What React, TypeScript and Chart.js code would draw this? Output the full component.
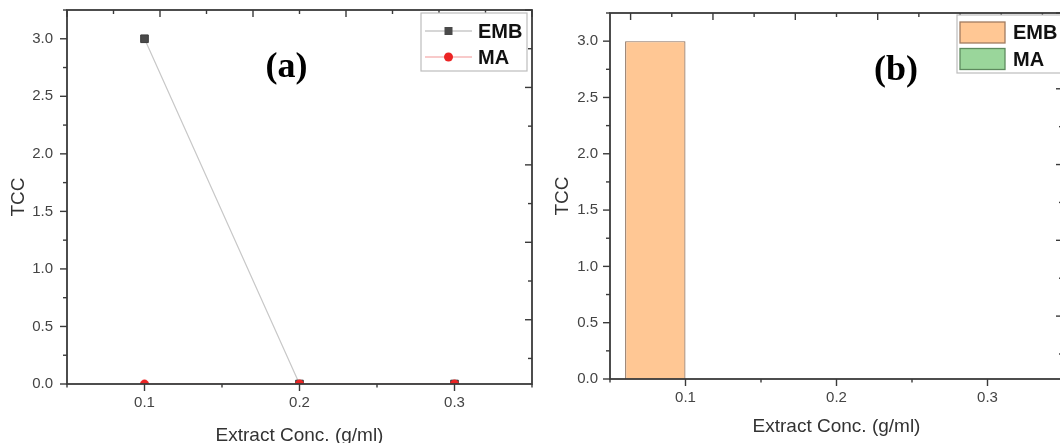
import React, { useEffect, useRef } from 'react';
import { Chart, registerables } from 'chart.js';

Chart.register(...registerables);

// ---------------- data ----------------
const concentrations = [0.1, 0.2, 0.3];
const embTCC = [3.0, 0.0, 0.0];
const maTCC = [0.0, 0.0, 0.0];
const seriesNames = ['EMB', 'MA'];
const panelTags = ['(a)', '(b)'];
const xAxisTitle = 'Extract Conc. (g/ml)';
const yAxisTitle = 'TCC';
const xRange = [0.05, 0.35];
const yRange = [0, 3.25];
const yTickStep = 0.25;
const yLabelStep = 0.5;
const mirrorXDivisions = 10;
const mirrorYDivisions = 9.66;

const SANS = '"Liberation Sans", Arial, Helvetica, sans-serif';
const SERIF = '"Liberation Serif", "Times New Roman", serif';

const near = (v: number, step: number) => Math.abs(v / step - Math.round(v / step)) < 1e-6;

const framePlugin = {
  id: 'frame',
  afterDatasetsDraw(chart: any) {
    const { ctx, chartArea: ca, scales } = chart;
    const seg = (x1: number, y1: number, x2: number, y2: number) => {
      ctx.beginPath();
      ctx.moveTo(x1, y1);
      ctx.lineTo(x2, y2);
      ctx.stroke();
    };
    ctx.save();
    ctx.strokeStyle = '#3a3a3a';
    ctx.lineWidth = 1.4;
    // bottom axis: major ticks at the labelled values, minor ticks half-way
    const xs = scales.x;
    const xt: number[] = xs.ticks.map((t: any) => t.value);
    const xstep = xt.length > 1 ? xt[1] - xt[0] : 0.1;
    xt.forEach((v) => {
      const p = xs.getPixelForValue(v);
      seg(p, ca.bottom, p, ca.bottom + 7);
    });
    const minorKeys: Record<string, number> = {};
    xt.forEach((v) => {
      [v - xstep / 2, v + xstep / 2].forEach((m) => {
        if (m >= xs.min - 1e-9 && m <= xs.max + 1e-9) minorKeys[m.toFixed(4)] = m;
      });
    });
    Object.values(minorKeys).forEach((m) => {
      const p = xs.getPixelForValue(m);
      seg(p, ca.bottom, p, ca.bottom + 3.5);
    });
    // left axis
    const ys = scales.y;
    ys.ticks.forEach((t: any) => {
      const p = ys.getPixelForValue(t.value);
      const len = near(t.value, yLabelStep) ? 7 : 4;
      seg(ca.left - len, p, ca.left, p);
    });
    // top mirror axis (inward ticks)
    const x2 = scales.x2;
    x2.ticks.forEach((t: any) => {
      if (!near(t.value, 1)) return;
      const p = x2.getPixelForValue(t.value);
      const len = near(t.value, 2) ? 7 : 4;
      seg(p, ca.top, p, ca.top + len);
    });
    // right mirror axis (inward ticks)
    const y2 = scales.y2;
    y2.ticks.forEach((t: any) => {
      if (!near(t.value, 1)) return;
      const p = y2.getPixelForValue(t.value);
      const len = near(t.value, 2) ? 7 : 4;
      seg(ca.right, p, ca.right - len, p);
    });
    // frame
    ctx.lineWidth = 1.8;
    ctx.strokeRect(ca.left, ca.top, ca.right - ca.left, ca.bottom - ca.top);
    ctx.restore();
  },
};

const decorPlugin = {
  id: 'decor',
  afterDraw(chart: any, _args: any, opts: any) {
    const { ctx, chartArea: ca } = chart;
    ctx.save();
    // panel tag
    ctx.font = `bold 36px ${SERIF}`;
    ctx.fillStyle = '#000';
    ctx.textAlign = 'center';
    ctx.textBaseline = 'alphabetic';
    ctx.fillText(opts.tag, ca.left + opts.tagDx, ca.top + opts.tagDy);

    // legend
    const L = opts.legend;
    const ds = chart.data.datasets;
    ctx.fillStyle = '#fff';
    ctx.strokeStyle = '#bdbdbd';
    ctx.lineWidth = 1.2;
    const bx = ca.right + L.boxLeft;
    const by = ca.top + L.boxTop;
    const bw = L.boxRight - L.boxLeft;
    const bh = L.boxBottom - L.boxTop;
    ctx.fillRect(bx, by, bw, bh);
    ctx.strokeRect(bx, by, bw, bh);
    ctx.font = `bold 20px ${SANS}`;
    ctx.textAlign = 'left';
    ctx.textBaseline = 'middle';
    ds.forEach((d: any, i: number) => {
      const cy = ca.top + L.rows[i];
      if (L.kind === 'line') {
        ctx.strokeStyle = d.borderColor;
        ctx.lineWidth = 1.3;
        ctx.beginPath();
        ctx.moveTo(ca.right + L.symLeft, cy);
        ctx.lineTo(ca.right + L.symRight, cy);
        ctx.stroke();
        const mx = ca.right + (L.symLeft + L.symRight) / 2;
        ctx.fillStyle = d.pointBackgroundColor;
        if (d.pointStyle === 'rect') {
          ctx.fillRect(mx - 4, cy - 4, 8, 8);
        } else {
          ctx.beginPath();
          ctx.arc(mx, cy, 4.5, 0, Math.PI * 2);
          ctx.fill();
        }
      } else {
        const sx = ca.right + L.symLeft;
        const sw = L.symRight - L.symLeft;
        ctx.fillStyle = d.backgroundColor;
        ctx.fillRect(sx, cy - L.swH / 2, sw, L.swH);
        ctx.strokeStyle = d.legendBorder;
        ctx.lineWidth = 1.3;
        ctx.strokeRect(sx, cy - L.swH / 2, sw, L.swH);
      }
      ctx.fillStyle = '#111';
      ctx.fillText(d.label, ca.right + L.textLeft, cy + 1);
    });
    ctx.restore();
  },
};

function commonScales(yWidth: number, xHeight: number, yTitlePad: number, xTitlePadBottom: number, yTickPad: number) {
  return {
    x: {
      type: 'linear',
      position: 'bottom',
      min: xRange[0],
      max: xRange[1],
      offset: false,
      grid: { display: false, drawTicks: false, offset: false },
      border: { display: false },
      afterBuildTicks: (s: any) => {
        s.ticks = concentrations.map((v) => ({ value: v }));
      },
      ticks: {
        autoSkip: false,
        maxRotation: 0,
        padding: 10,
        color: '#444',
        font: { family: SANS, size: 15 },
        callback: (v: any) => Number(v).toFixed(1),
      },
      title: {
        display: true,
        text: xAxisTitle,
        color: '#333',
        font: { family: SANS, size: 19, lineHeight: 1.2 },
        padding: { top: 0, bottom: xTitlePadBottom },
      },
      afterFit: (s: any) => {
        s.height = xHeight;
        s.paddingLeft = 0;
        s.paddingRight = 0;
      },
    },
    y: {
      type: 'linear',
      position: 'left',
      min: yRange[0],
      max: yRange[1],
      grid: { display: false, drawTicks: false },
      border: { display: false },
      ticks: {
        stepSize: yTickStep,
        autoSkip: false,
        padding: yTickPad,
        color: '#444',
        font: { family: SANS, size: 15 },
        callback: (v: any) => {
          const n = Number(v);
          return near(n, yLabelStep) ? n.toFixed(1) : '';
        },
      },
      title: {
        display: true,
        text: yAxisTitle,
        color: '#333',
        font: { family: SANS, size: 19, lineHeight: 1.2 },
        padding: { top: yTitlePad, bottom: 0 },
      },
      afterFit: (s: any) => {
        s.width = yWidth;
        s.paddingTop = 0;
        s.paddingBottom = 0;
      },
    },
    x2: {
      type: 'linear',
      axis: 'x',
      position: 'top',
      min: 0,
      max: mirrorXDivisions,
      grid: { display: false, drawTicks: false },
      border: { display: false },
      ticks: { display: false, stepSize: 1, autoSkip: false },
      afterFit: (s: any) => {
        s.height = 0;
        s.paddingLeft = 0;
        s.paddingRight = 0;
      },
    },
    y2: {
      type: 'linear',
      axis: 'y',
      position: 'right',
      reverse: true,
      min: 0,
      max: mirrorYDivisions,
      grid: { display: false, drawTicks: false },
      border: { display: false },
      ticks: { display: false, stepSize: 1, autoSkip: false },
      afterFit: (s: any) => {
        s.width = 0;
        s.paddingTop = 0;
        s.paddingBottom = 0;
      },
    },
  };
}

const CANVAS_H = 455;

export default function App() {
  const leftRef = useRef<HTMLCanvasElement | null>(null);
  const rightRef = useRef<HTMLCanvasElement | null>(null);

  useEffect(() => {
    const lineChart = new Chart(leftRef.current as HTMLCanvasElement, {
      type: 'line',
      data: {
        datasets: [
          {
            label: seriesNames[0],
            data: concentrations.map((x, i) => ({ x, y: embTCC[i] })),
            borderColor: '#c8c8c8',
            borderWidth: 1.2,
            pointStyle: 'rect',
            pointRadius: 5.4,
            pointBackgroundColor: '#4a4a4a',
            pointBorderColor: '#3c3c3c',
            pointBorderWidth: 1,
            clip: 0,
            order: 1,
          },
          {
            label: seriesNames[1],
            data: concentrations.map((x, i) => ({ x, y: maTCC[i] })),
            borderColor: '#f6b8b8',
            borderWidth: 1.2,
            pointStyle: 'circle',
            pointRadius: 4.2,
            pointBackgroundColor: '#ec2424',
            pointBorderColor: '#ec2424',
            pointBorderWidth: 0.5,
            clip: 0,
            order: 0,
          },
        ] as any,
      },
      options: {
        responsive: false,
        animation: false,
        layout: { padding: { left: 0, right: 8, top: 10, bottom: 0 } },
        scales: commonScales(67, CANVAS_H - 384, 7, 8, 14) as any,
        plugins: {
          legend: { display: false },
          tooltip: { enabled: false },
          decor: {
            tag: panelTags[0],
            tagDx: 219.5,
            tagDy: 66.5,
            legend: {
              kind: 'line',
              boxLeft: -111,
              boxRight: -5,
              boxTop: 3,
              boxBottom: 61,
              rows: [21, 47],
              symLeft: -107,
              symRight: -60,
              textLeft: -54,
            },
          },
        } as any,
      },
      plugins: [framePlugin, decorPlugin],
    });

    const barChart = new Chart(rightRef.current as HTMLCanvasElement, {
      type: 'bar',
      data: {
        datasets: [
          {
            label: seriesNames[0],
            data: concentrations.map((x, i) => ({ x, y: embTCC[i] })),
            backgroundColor: '#FFC794',
            borderColor: '#8b6f5c',
            legendBorder: '#a07c60',
            borderWidth: 1.2,
            barPercentage: 1,
            categoryPercentage: 0.8,
          },
          {
            label: seriesNames[1],
            data: concentrations.map((x, i) => ({ x, y: maTCC[i] })),
            backgroundColor: '#9AD69B',
            borderColor: '#4f7f50',
            legendBorder: '#5d8a5e',
            borderWidth: 1.2,
            barPercentage: 1,
            categoryPercentage: 0.8,
          },
        ] as any,
      },
      options: {
        responsive: false,
        animation: false,
        layout: { padding: { left: 0, right: 9, top: 13, bottom: 0 } },
        scales: commonScales(74, CANVAS_H - 379, 15.5, 17, 12) as any,
        plugins: {
          legend: { display: false },
          tooltip: { enabled: false },
          decor: {
            tag: panelTags[1],
            tagDx: 286,
            tagDy: 66.5,
            legend: {
              kind: 'bar',
              boxLeft: -106,
              boxRight: 4,
              boxTop: 2,
              boxBottom: 60,
              rows: [19.5, 46],
              swH: 21,
              symLeft: -103,
              symRight: -58,
              textLeft: -50,
            },
          },
        } as any,
      },
      plugins: [framePlugin, decorPlugin],
    });

    return () => {
      lineChart.destroy();
      barChart.destroy();
    };
  }, []);

  return (
    <div
      style={{
        position: 'fixed',
        left: 0,
        top: 0,
        width: 1060,
        height: 443,
        overflow: 'hidden',
        background: '#fff',
      }}
    >
      <canvas
        ref={leftRef}
        width={540}
        height={CANVAS_H}
        style={{ position: 'absolute', left: 0, top: 0, width: 540, height: CANVAS_H }}
      />
      <canvas
        ref={rightRef}
        width={536}
        height={CANVAS_H}
        style={{ position: 'absolute', left: 536, top: 0, width: 536, height: CANVAS_H }}
      />
    </div>
  );
}
